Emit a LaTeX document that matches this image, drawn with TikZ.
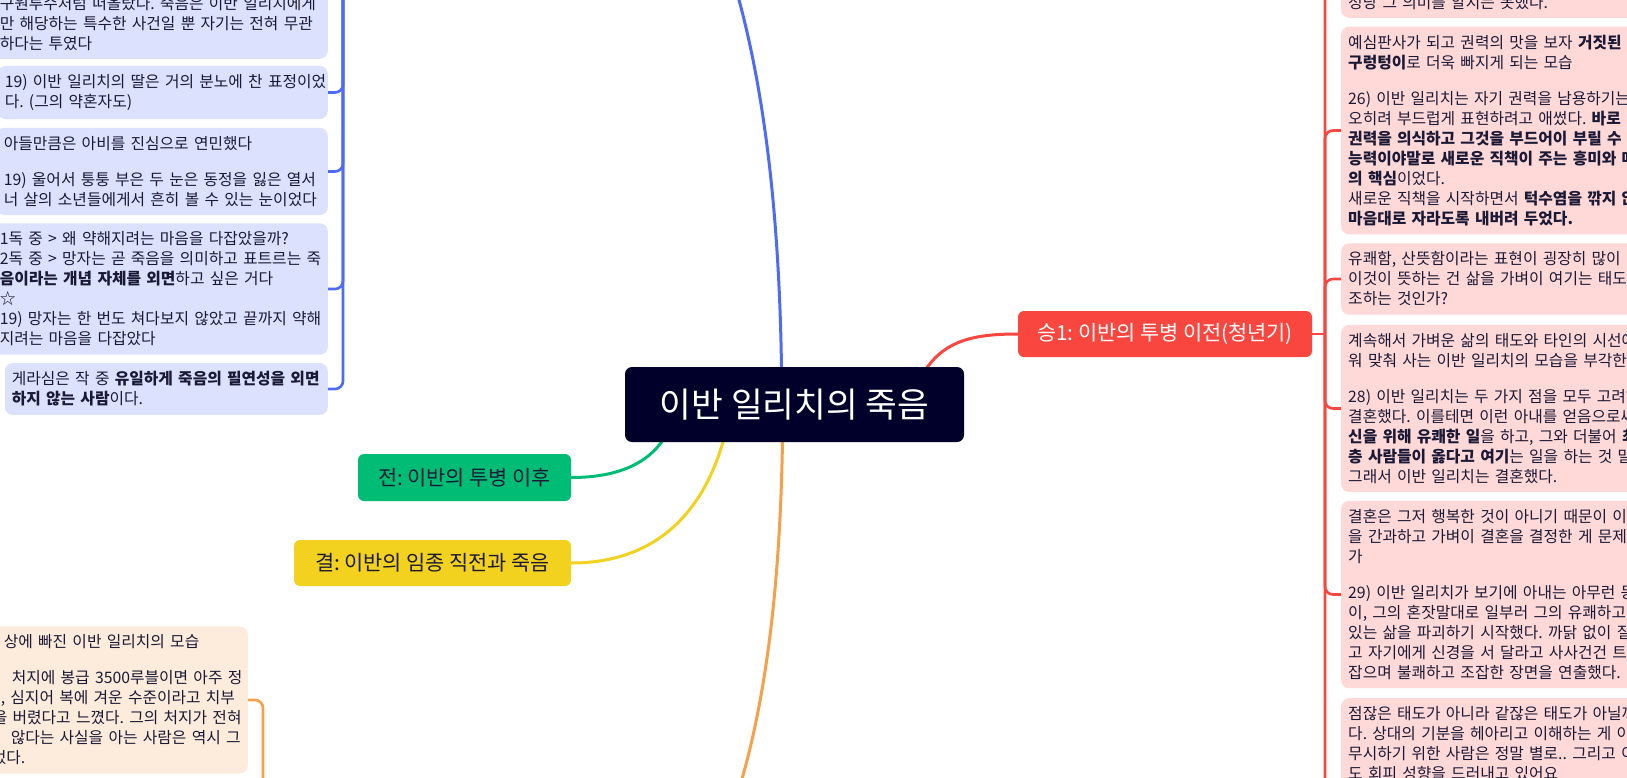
\documentclass[tikz,border=0pt]{standalone}
\usepackage{fontspec}
\setmainfont{Noto Sans CJK KR}
\usetikzlibrary{backgrounds,calc}
\frenchspacing
\definecolor{cBlue}{HTML}{4D6BF6}
\definecolor{cBlueBox}{HTML}{DCE1FD}
\definecolor{cRed}{HTML}{F9463F}
\definecolor{cRedBox}{HTML}{FFD9D8}
\definecolor{cOrange}{HTML}{F7A04A}
\definecolor{cOrangeBox}{HTML}{FDEBDB}
\definecolor{cGreen}{HTML}{00BC74}
\definecolor{cYellow}{HTML}{F2D21F}
\definecolor{cNavy}{HTML}{00002B}
\definecolor{cText}{HTML}{1A1A36}
\tikzset{
  note/.style={rectangle, rounded corners=8pt, inner xsep=7pt, inner ysep=8.5pt, align=left, text=cText, font={\fontsize{15.8}{20}\selectfont\frenchspacing}},
  bnote/.style={note, fill=cBlueBox},
  rnote/.style={note, fill=cRedBox},
  onote/.style={note, fill=cOrangeBox},
  topic/.style={rectangle, rounded corners=6pt, inner sep=0pt, font={\fontsize{20.8}{24}\selectfont}},
  mainline/.style={line width=3pt},
  brline/.style={line width=2.6pt, rounded corners=8pt},
}
\newcommand\ml[1]{\mbox{#1}}
\begin{document}
\begin{tikzpicture}[x=1pt,y=-1pt]
\useasboundingbox (0,0) rectangle (1627,777);
\coordinate (bj) at (343,-330);
\coordinate (rj) at (1325,334);
\coordinate (oj) at (263,1100);

% central and topics
\node[fill=cNavy, rounded corners=7pt, minimum width=339pt, minimum height=75pt, inner sep=0pt, text=white, font={\fontsize{34.5}{40}\selectfont}] (C) at (794.5,404.5) {이반 일리치의 죽음};
\node[topic, fill=cRed, text=white, minimum width=294pt, minimum height=46pt] (T1) at (1165,334) {승1: 이반의 투병 이전(청년기)};
\node[topic, fill=cGreen, text=cText, minimum width=213pt, minimum height=47pt] (T2) at (464.5,477.5) {전: 이반의 투병 이후};
\node[topic, fill=cYellow, text=cText, minimum width=277pt, minimum height=46pt] (T3) at (432.5,563) {결: 이반의 임종 직전과 죽음};

% blue notes (left top)
\node[bnote, text width=321pt, anchor=south east] (B1) at (328,59) {\mbox{}\\[120pt]%
\ml{구원투수처럼 떠올랐다. 죽음은 이반 일리치에게}\\
\ml{만 해당하는 특수한 사건일 뿐 자기는 전혀 무관}\\
\ml{하다는 투였다}};
\node[bnote, text width=316pt, anchor=east] (B2) at (328,92.5) {%
\ml{19) 이반 일리치의 딸은 거의 분노에 찬 표정이었}\\
\ml{다. (그의 약혼자도)}};
\node[bnote, text width=317pt, anchor=east] (B3) at (328,171.5) {%
\ml{아들만큼은 아비를 진심으로 연민했다}\\[16pt]
\ml{19) 울어서 퉁퉁 부은 두 눈은 동정을 잃은 열서}\\
\ml{너 살의 소년들에게서 흔히 볼 수 있는 눈이었다}};
\node[bnote, text width=321pt, anchor=east] (B4) at (328,289) {%
\ml{1독 중 > 왜 약해지려는 마음을 다잡았을까?}\\
\ml{2독 중 > 망자는 곧 죽음을 의미하고 표트르는 죽}\\
\ml{\textbf{음이라는 개념 자체를 외면}하고 싶은 거다}\\
\ml{☆}\\
\ml{19) 망자는 한 번도 쳐다보지 않았고 끝까지 약해}\\
\ml{지려는 마음을 다잡았다}};
\node[bnote, text width=309pt, anchor=east] (B5) at (328,389) {%
\ml{게라심은 작 중 \textbf{유일하게 죽음의 필연성을 외면}}\\
\ml{\textbf{하지 않는 사람}이다.}};

% orange note (left bottom)
\node[onote, text width=241pt, anchor=east] (O1) at (248,700) {%
\ml{\hspace*{4pt}상에 빠진 이반 일리치의 모습}\\[16pt]
\ml{\hspace*{12pt}처지에 봉급 3500루블이면 아주 정}\\
\ml{\hspace*{1pt}, 심지어 복에 겨운 수준이라고 치부}\\
\ml{\hspace*{-7pt}을 버렸다고 느꼈다. 그의 처지가 전혀}\\
\ml{\hspace*{11pt}않다는 사실을 아는 사람은 역시 그}\\
\ml{\hspace*{-8pt}었다.}};

% red notes (right)
\node[rnote, text width=300pt, anchor=south west] (R0) at (1341,18) {\mbox{}\\[120pt]%
\ml{정당 그 의미를 알지는 못했다.}};
\node[rnote, text width=300pt, anchor=west] (R1) at (1341,130.5) {%
\ml{예심판사가 되고 권력의 맛을 보자 \textbf{거짓된}}\\
\ml{\textbf{구렁텅이}로 더욱 빠지게 되는 모습}\\[16pt]
\ml{26) 이반 일리치는 자기 권력을 남용하기는}\\
\ml{오히려 부드럽게 표현하려고 애썼다. \textbf{바로}}\\
\ml{\textbf{권력을 의식하고 그것을 부드어이 부릴 수}}\\
\ml{\textbf{능력이야말로 새로운 직책이 주는 흥미와 매}}\\
\ml{\textbf{의 핵심}이었다.}\\
\ml{새로운 직책을 시작하면서 \textbf{턱수염을 깎지 않}}\\
\ml{\textbf{마음대로 자라도록 내버려 두었다.}}};
\node[rnote, text width=300pt, anchor=west] (R2) at (1341,279) {%
\ml{유쾌함, 산뜻함이라는 표현이 굉장히 많이}\\
\ml{이것이 뜻하는 건 삶을 가벼이 여기는 태도}\\
\ml{조하는 것인가?}};
\node[rnote, text width=300pt, anchor=west] (R3) at (1341,408.5) {%
\ml{계속해서 가벼운 삶의 태도와 타인의 시선에}\\
\ml{워 맞춰 사는 이반 일리치의 모습을 부각한}\\[16pt]
\ml{28) 이반 일리치는 두 가지 점을 모두 고려해}\\
\ml{결혼했다. 이를테면 이런 아내를 얻음으로써}\\
\ml{\textbf{신을 위해 유쾌한 일}을 하고, 그와 더불어 \textbf{최}}\\
\ml{\textbf{층 사람들이 옳다고 여기}는 일을 하는 것 말}\\
\ml{그래서 이반 일리치는 결혼했다.}};
\node[rnote, text width=300pt, anchor=west] (R4) at (1341,594.5) {%
\ml{결혼은 그저 행복한 것이 아니기 때문이 이}\\
\ml{을 간과하고 가벼이 결혼을 결정한 게 문제}\\
\ml{가}\\[16pt]
\ml{29) 이반 일리치가 보기에 아내는 아무런 동}\\
\ml{이, 그의 혼잣말대로 일부러 그의 유쾌하고}\\
\ml{있는 삶을 파괴하기 시작했다. 까닭 없이 질}\\
\ml{고 자기에게 신경을 서 달라고 사사건건 트}\\
\ml{잡으며 불쾌하고 조잡한 장면을 연출했다.}};
\node[rnote, text width=300pt, anchor=north west] (R5) at (1341,698) {%
\ml{점잖은 태도가 아니라 같잖은 태도가 아닐까}\\
\ml{다. 상대의 기분을 헤아리고 이해하는 게 아}\\
\ml{무시하기 위한 사람은 정말 별로.. 그리고 이}\\
\ml{도 회피 성향을 드러내고 있어요}\\[120pt]\mbox{}};

\begin{pgfonlayer}{background}
\fill[white] (0,0) rectangle (1627,777);
% main branches
\draw[mainline, cBlue] ($(C.north)+(-13,2)$) .. controls (775,-100) and (650,-330) .. (bj);
\draw[mainline, cRed] ($(C.north east)+(-38,2)$) .. controls (946,340) and (975,334) .. (T1.west);
\draw[mainline, cGreen] ($(C.south west)+(38,-2)$) .. controls (648,462) and (620,477.5) .. (T2.east);
\draw[mainline, cYellow] ($(C.south)+(-71,-2)$) .. controls (712,480) and (680,563) .. (T3.east);
\draw[mainline, cOrange] ($(C.south)+(-12,-2)$) .. controls (775,900) and (650,1100) .. (oj);
% blue bracket
\foreach \n in {B1,B2,B3,B4,B5} \draw[brline, cBlue] (\n.east) -| (bj);
% red bracket
\draw[brline, cRed] (T1.east) -- (rj);
\foreach \n in {R0,R1,R2,R3,R4,R5} \draw[brline, cRed] (\n.west) -| (rj);
% orange bracket
\draw[brline, cOrange] (O1.east) -| (oj);
\end{pgfonlayer}
\end{tikzpicture}
\end{document}
